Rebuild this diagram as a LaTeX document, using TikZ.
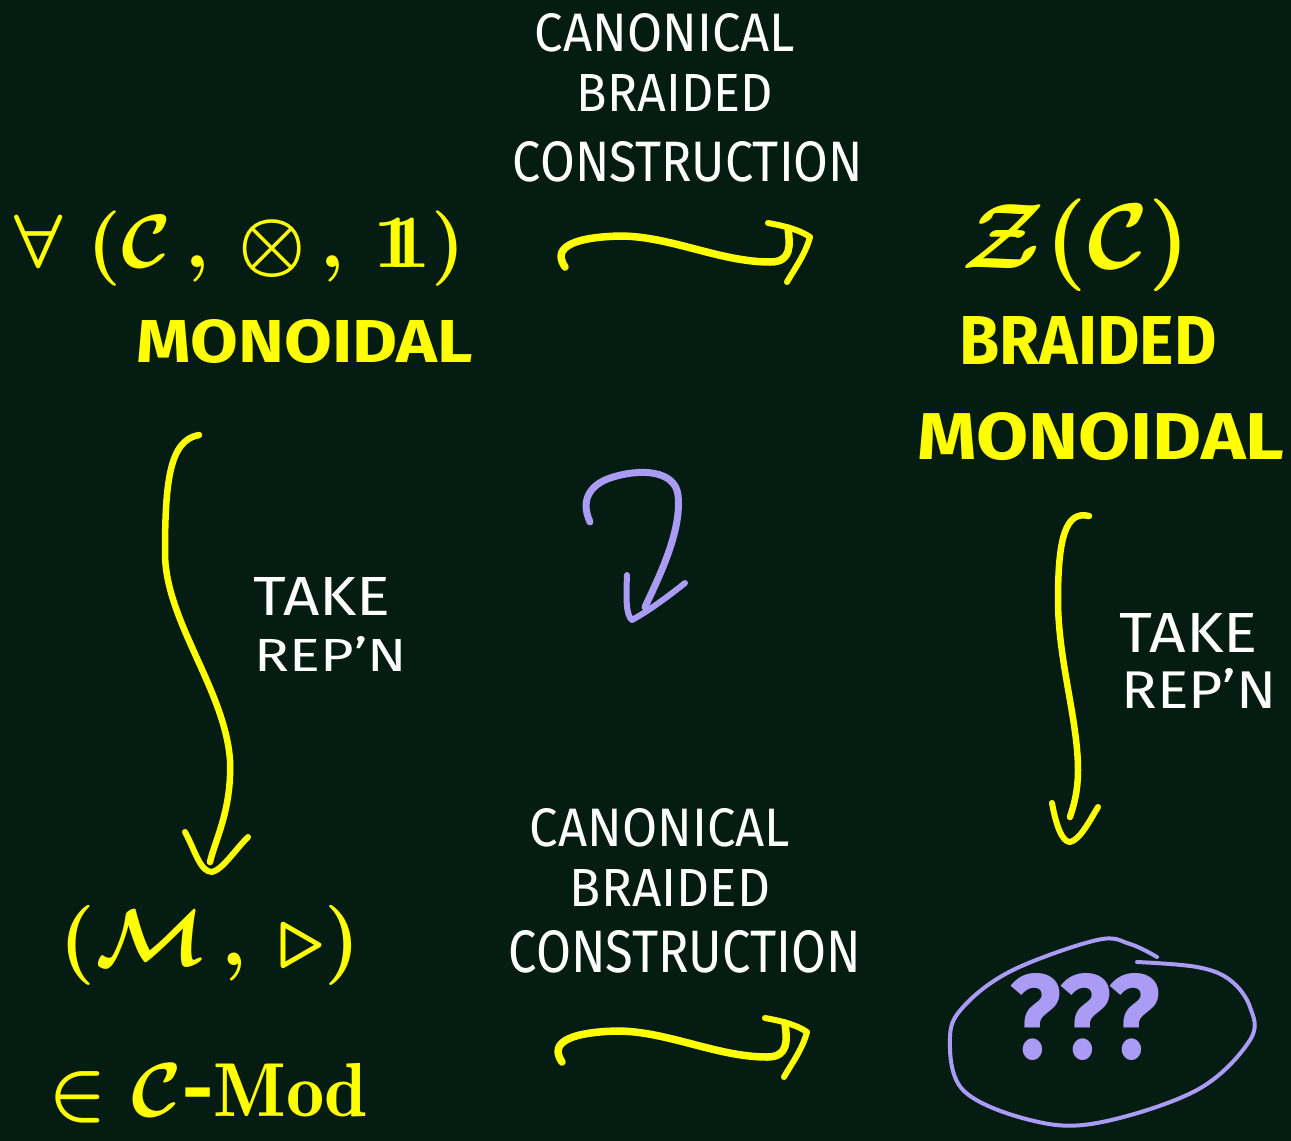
\documentclass[tikz,border=0pt]{standalone}
\usepackage{amsmath,amssymb}
\usepackage{graphicx}
\usepackage{fontspec}
\IfFileExists{dsfont.sty}{\usepackage{dsfont}\newcommand\unitobj{\mathds{1}}}{\newcommand\unitobj{1\!\!1}}
\setsansfont{Fira Sans}
\definecolor{bgc}{RGB}{4,28,18}
\definecolor{hlyellow}{RGB}{255,255,0}
\definecolor{lavender}{RGB}{170,155,245}
\newcommand\fitbox[3]{\resizebox{#1pt}{#2pt}{#3}}
\newcommand\fitw[2]{\resizebox{#1pt}{!}{#2}}
\begin{document}
\begin{tikzpicture}[x=1pt,y=-1pt,
  wlab/.style={inner sep=0pt,text=white,font=\sffamily},
  ylab/.style={inner sep=0pt,text=hlyellow,font=\sffamily\bfseries},
  llab/.style={inner sep=0pt,text=lavender,font=\sffamily\bfseries},
  yshaft/.style={draw=hlyellow,line width=7.5pt,line cap=round,line join=round},
  yhead/.style={draw=hlyellow,line width=6pt,line cap=round,line join=round},
  lshaft/.style={draw=lavender,line width=7pt,line cap=round,line join=round},
  lring/.style={draw=lavender,line width=4pt,line cap=round}]
\fill[bgc] (0,0) rectangle (1291,1141);
\useasboundingbox (0,0) rectangle (1291,1141);

% ---- top label
\node[wlab] (c1) at (665,33) {\fitbox{260}{38}{CANONICAL}};
\node[wlab] (b1) at (675,93) {\fitbox{196}{37}{BRAIDED}};
\node[wlab] (k1) at (688,162) {\fitbox{350}{40}{CONSTRUCTION}};
% ---- bottom label
\node[wlab] (c2) at (660,828) {\fitbox{260}{38}{CANONICAL}};
\node[wlab] (b2) at (670,888) {\fitbox{200}{37}{BRAIDED}};
\node[wlab] (k2) at (685,952) {\fitbox{352}{42}{CONSTRUCTION}};
% ---- side labels
\node[wlab] (t1) at (322,596) {\fitbox{137}{38}{TAKE}};
\node[wlab] (r1) at (331,654) {\fitbox{152}{35}{REP'N}};
\node[wlab] (t2) at (1189,633) {\fitbox{138}{39}{TAKE}};
\node[wlab] (r2) at (1199,688) {\fitbox{155}{40}{REP'N}};

% ---- yellow objects
\node[ylab] (C) at (240,249) {\fitw{450}{\boldmath$\forall\;(\mathcal{C}\,,\,\otimes\,,\,\unitobj)$}};
\node[ylab] (mon1) at (305,342) {\fitbox{336}{43}{MONOIDAL}};
\node[ylab] (Z) at (1076,245) {\fitw{228}{\boldmath$\mathcal{Z}(\mathcal{C})$}};
\node[ylab] (br) at (1088,340) {\fitbox{257}{48}{BRAIDED}};
\node[ylab] (mon2) at (1101,437) {\fitbox{367}{47}{MONOIDAL}};
\node[ylab] (M) at (210,945) {\fitw{300}{\boldmath$(\mathcal{M}\,,\,\triangleright)$}};
\node[ylab] (Mod) at (208,1093) {\fitw{318}{\boldmath$\in\mathcal{C}\text{-}\mathrm{Mod}$}};

% ---- ???
\node[llab] (q) at (1085,1017) {\fitbox{150}{85}{???}};
\draw[lring] plot[smooth,tension=0.6] coordinates {(1157,957) (1130,944) (1097,940) (1013,970) (965,1005) (950,1037) (963,1090) (1030,1120) (1097,1123) (1197,1090) (1250,1040) (1250,1007) (1230,980) (1197,967) (1137,962)};

% ---- top arrow
\coordinate (ta) at (565,267);
\coordinate (tb) at (788,228);
\coordinate (ttip) at (810,237);
\draw[yshaft] (ta) .. controls (550,245) and (580,237) .. (620,236) .. controls (670,236) and (720,262) .. (770,262) .. controls (792,262) and (790,245) .. (tb);
\draw[yhead] (768,223) .. controls (785,226) and (800,230) .. (ttip) .. controls (805,255) and (795,268) .. (787,282);

% ---- bottom arrow
\begin{scope}[shift={(-3,795)}]
\coordinate (ba) at (565,267);
\coordinate (bb) at (788,228);
\coordinate (btip) at (810,237);
\draw[yshaft] (ba) .. controls (550,245) and (580,237) .. (620,236) .. controls (670,236) and (720,262) .. (770,262) .. controls (792,262) and (790,245) .. (bb);
\draw[yhead] (768,223) .. controls (785,226) and (800,230) .. (btip) .. controls (805,255) and (795,268) .. (787,282);
\end{scope}

% ---- left vertical arrow
\coordinate (la) at (199,435);
\coordinate (lb) at (210,862);
\coordinate (ltip) at (212,872);
\draw[yshaft,line width=6.5pt] (la) .. controls (170,440) and (165,480) .. (165,553) .. controls (165,620) and (225,690) .. (230,760) .. controls (232,810) and (215,840) .. (lb);
\draw[yhead] (185,832) .. controls (195,850) and (200,872) .. (ltip) .. controls (222,870) and (235,850) .. (248,837);

% ---- right vertical arrow
\coordinate (ra) at (1089,516);
\coordinate (rb) at (1070,817);
\coordinate (rtip) at (1070,842);
\draw[yshaft,line width=6.5pt] (ra) .. controls (1065,510) and (1058,540) .. (1058,600) .. controls (1058,660) and (1078,720) .. (1078,770) .. controls (1078,795) and (1072,810) .. (rb);
\draw[yhead] (1052,803) .. controls (1056,825) and (1062,842) .. (rtip) .. controls (1080,840) and (1090,820) .. (1098,807);

% ---- lavender 2-cell arrow
\coordinate (pa) at (590,522);
\coordinate (pb) at (645,607);
\coordinate (ptip) at (632,620);
\draw[lshaft] (pa) .. controls (580,500) and (590,485) .. (610,478) .. controls (640,468) and (675,470) .. (678,495) .. controls (682,530) and (660,575) .. (pb);
\draw[lshaft,line width=6pt] (627,575) .. controls (626,600) and (626,615) .. (ptip) .. controls (650,610) and (670,595) .. (685,583);
\end{tikzpicture}
\end{document}
